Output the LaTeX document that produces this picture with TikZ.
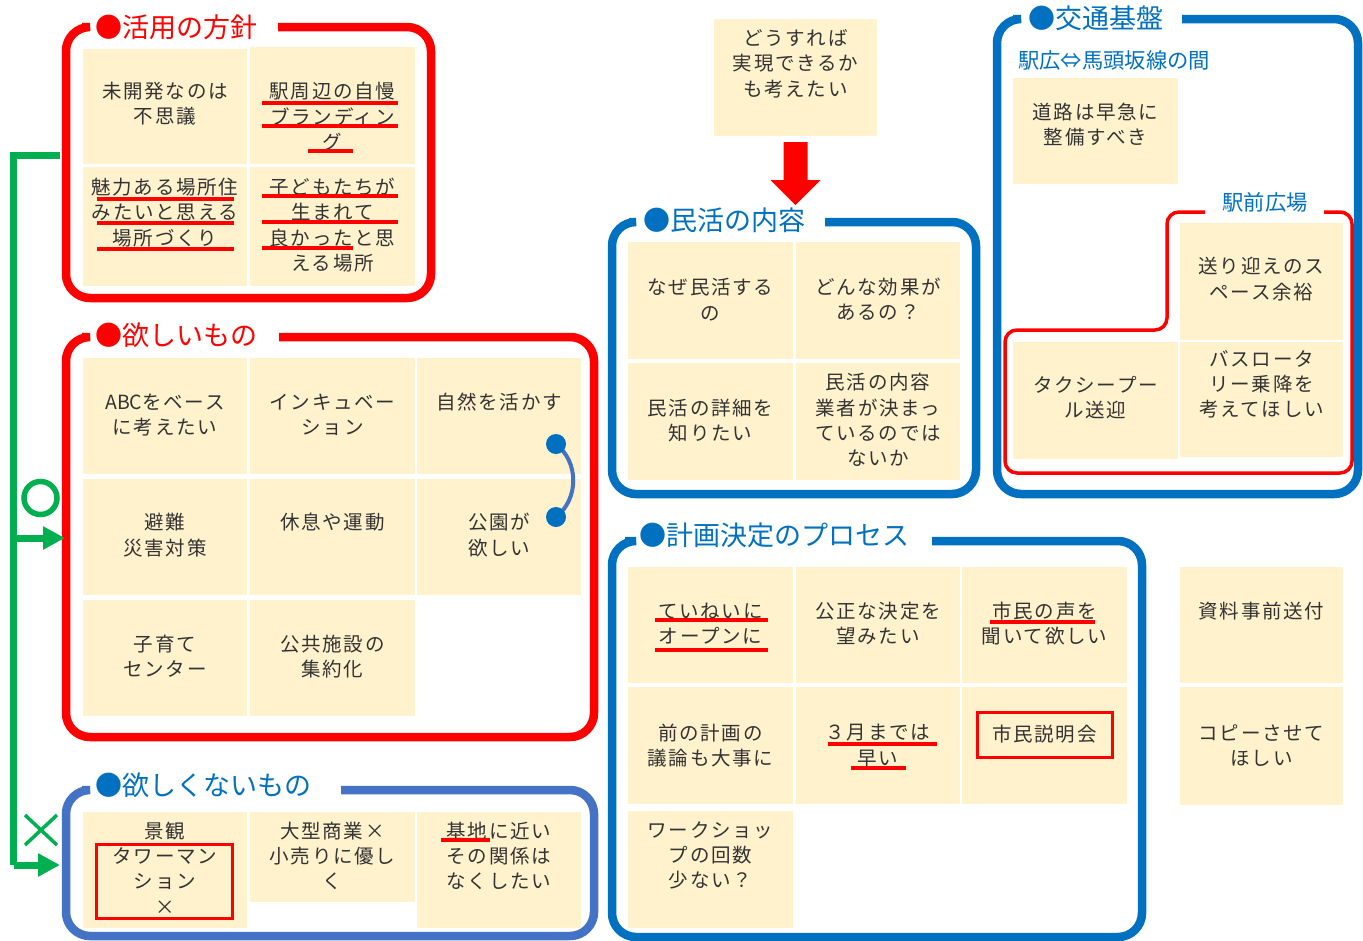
\documentclass[tikz,border=0pt]{standalone}
\usepackage{fontspec}
\setmainfont{Noto Sans CJK JP}
\newfontfamily\stkfont[LetterSpace=9]{Noto Sans CJK JP}
\newfontfamily\latinfont{Noto Sans CJK JP}
\usetikzlibrary{arrows.meta}
\definecolor{stk}{HTML}{FFF2CC}
\definecolor{myred}{HTML}{FF0000}
\definecolor{myblue}{HTML}{0070C0}
\definecolor{lblue}{HTML}{4472C4}
\definecolor{mygreen}{HTML}{00B050}
\definecolor{ink}{HTML}{333333}
\tikzset{
  sticky/.style={fill=stk, draw=none, inner sep=0pt},
  txt/.style={align=center, font=\stkfont\fontsize{19.5}{25.3}\selectfont, text=ink, inner sep=0pt},
  frameR/.style={draw=myred, line width=8.5pt, rounded corners=24pt},
  frameB/.style={draw=myblue, line width=8.5pt, rounded corners=24pt},
  frameLB/.style={draw=lblue, line width=8.5pt, rounded corners=24pt},
  redL/.style={draw=myred, line width=3.5pt, rounded corners=12pt},
  ttlR/.style={text=myred, font=\fontsize{27}{30}\selectfont, anchor=west, inner sep=0pt},
  ttlB/.style={text=myblue, font=\fontsize{27}{30}\selectfont, anchor=west, inner sep=0pt},
  sub/.style={text=myblue, font=\fontsize{21.3}{24}\selectfont, inner sep=0pt},
  uline/.style={draw=myred, line width=3.3pt},
  rbox/.style={draw=myred, line width=3pt},
  grn/.style={draw=mygreen, line width=7pt},
  grnarrow/.style={grn, -{Triangle[length=22pt,width=22pt]}},
  bluedot/.style={fill=myblue},
}
\newcommand\stk[7]{%
  \pgfmathsetmacro\stkcx{(#2+#4)/2}\pgfmathsetmacro\stkcy{(#3+#5)/2}%
  \pgfmathsetmacro\stkw{#4-#2}\pgfmathsetmacro\stkh{#5-#3}%
  \node[sticky, minimum width=\stkw pt, minimum height=\stkh pt] (#1) at (\stkcx,\stkcy) {};
  \node[txt] (#1t) at (\stkcx,#6) {#7};}
\newcommand\grp[7]{%
  \draw[#1] (#7,#3) -- (#4,#3) -- (#4,#5) -- (#2,#5) -- (#2,#3) -- (#6,#3);}
\begin{document}
\begin{tikzpicture}[x=1pt,y=-1pt]
\useasboundingbox (0,0) rectangle (1363,940);
\fill[white] (0,0) rectangle (1363,940);

% ---------- frames ----------
\grp{frameR}{66}{27}{431}{298}{82}{278}
\grp{frameR}{66}{337}{594}{737}{82}{279}
\grp{frameLB}{66}{790}{594}{936}{82}{341}
\grp{frameB}{612}{222}{976}{494}{629}{825}
\grp{frameB}{997}{19}{1358}{494}{1013}{1182}
\grp{frameB}{612}{541}{1142}{937}{625}{932}
\draw[redL] (1324,212) -- (1352,212) -- (1352,473) -- (1005,473) -- (1005,330) -- (1167,330) -- (1167,212) -- (1205,212);

% ---------- titles ----------
\node[ttlR] (t1) at (95,27) {●活用の方針};
\node[ttlR] (t2) at (95,335) {●欲しいもの};
\node[ttlB] (t3) at (95,785) {●欲しくないもの};
\node[ttlB] (t4) at (643,220) {●民活の内容};
\node[ttlB] (t5) at (1028,18) {●交通基盤};
\node[ttlB] (t6) at (639,535) {●計画決定のプロセス};
\node[sub, anchor=west] (s1) at (1018,60) {駅広⇔馬頭坂線の間};
\node[sub] (s2) at (1265,202) {駅前広場};

% ---------- group 1 ----------
\stk{a1}{83}{49}{247}{164}{104}{未開発なのは\\不思議}
\stk{a2}{250}{47}{415}{164}{116.5}{駅周辺の自慢\\ブランディン\\グ}
\stk{a3}{83}{167}{247}{286}{212.5}{魅力ある場所住\\みたいと思える\\場所づくり}
\stk{a4}{250}{167}{415}{286}{225}{子どもたちが\\生まれて\\良かったと思\\える場所}
\draw[uline] (262,103) -- (398,103);
\draw[uline] (262,126) -- (398,126);
\draw[uline] (308,151) -- (353,151);
\draw[uline] (97,199) -- (234,199);
\draw[uline] (97,223) -- (234,223);
\draw[uline] (97,249) -- (234,249);
\draw[uline] (262,196) -- (398,196);
\draw[uline] (262,222) -- (398,222);
\draw[uline] (262,248) -- (353,248);

% ---------- group 2 ----------
\stk{b1}{83}{358}{247}{474}{415}{{\latinfont ABC}をベース\\に考えたい}
\stk{b2}{250}{358}{415}{474}{415}{インキュベー\\ション}
\stk{b3}{417}{358}{581}{474}{402}{自然を活かす}
\stk{b4}{83}{479}{247}{595}{535}{避難\\災害対策}
\stk{b5}{250}{479}{415}{595}{522}{休息や運動}
\stk{b6}{417}{479}{581}{595}{535}{公園が\\欲しい}
\stk{b7}{83}{600}{247}{716}{656.5}{子育て\\センター}
\stk{b8}{250}{600}{415}{716}{656.5}{公共施設の\\集約化}
\coordinate (p1) at (556,444);
\coordinate (p2) at (556,517);
\draw[lblue, line width=4pt] (p1) .. controls (579,462) and (579,499) .. (p2);
\fill[bluedot] (p1) circle[radius=10];
\fill[bluedot] (p2) circle[radius=10];

% ---------- group 3 ----------
\stk{c1}{83}{812}{247}{928}{868}{景観\\タワーマン\\ション\\×}
\stk{c2}{250}{812}{415}{902}{856}{大型商業×\\小売りに優し\\く}
\stk{c3}{417}{812}{581}{928}{856}{基地に近い\\その関係は\\なくしたい}
\draw[rbox] (96,844) rectangle (232,918);
\draw[uline] (441,840) -- (490,840);

% ---------- green connectors ----------
\coordinate (gtop) at (60,155);
\coordinate (gc1) at (13.5,155);
\coordinate (gc2) at (13.5,865);
\coordinate (gmid) at (13.5,538);
\coordinate (gin2) at (65,538);
\coordinate (gin3) at (60,865);
\draw[grn] (gtop) -- (gc1) -- (gc2);
\draw[grnarrow] (gc2) -- (gin3);
\draw[grnarrow] (gmid) -- (gin2);
\draw[grn, line width=5.5pt] (40.5,498) circle[radius=16.5];
\draw[grn, line width=3.5pt] (25,815) -- (57,845) (25,845) -- (57,815);

% ---------- centre top ----------
\stk{d0}{714}{19}{877}{136}{63.5}{どうすれば\\実現できるか\\も考えたい}
\fill[myred] ([xshift=-12pt,yshift=-6pt]d0.south) -- ++(24,0) -- ++(0,38) -- ++(13,0) -- ++(-25,25) -- ++(-25,-25) -- ++(13,0) -- cycle;

% ---------- 民活 ----------
\stk{e1}{628}{242}{793}{359}{299.5}{なぜ民活する\\の}
\stk{e2}{796}{242}{960}{359}{299.5}{どんな効果が\\あるの？}
\stk{e3}{628}{363}{793}{480}{420.5}{民活の詳細を\\知りたい}
\stk{e4}{796}{363}{960}{480}{420}{民活の内容\\業者が決まっ\\ているのでは\\ないか}

% ---------- 交通基盤 ----------
\stk{f1}{1013}{78}{1178}{184}{124.5}{道路は早急に\\整備すべき}
\stk{f2}{1180}{223}{1343}{340}{279}{送り迎えのス\\ペース余裕}
\stk{f3}{1013}{342}{1178}{459}{397.5}{タクシープー\\ル送迎}
\stk{f4}{1180}{342}{1343}{457}{384.5}{バスロータ\\リー乗降を\\考えてほしい}

% ---------- 計画決定 ----------
\stk{g1}{628}{567}{793}{683}{623.5}{ていねいに\\オープンに}
\stk{g2}{796}{567}{960}{683}{623.5}{公正な決定を\\望みたい}
\stk{g3}{962}{567}{1127}{683}{623.5}{市民の声を\\聞いて欲しい}
\stk{g4}{628}{687}{793}{804}{745.5}{前の計画の\\議論も大事に}
\stk{g5}{796}{687}{960}{804}{745.5}{３月までは\\早い}
\stk{g6}{962}{687}{1127}{804}{734}{市民説明会}
\stk{g7}{628}{811}{793}{928}{855.5}{ワークショッ\\プの回数\\少ない？}
\stk{h1}{1180}{567}{1343}{683}{611}{資料事前送付}
\stk{h2}{1180}{687}{1343}{805}{745.5}{コピーさせて\\ほしい}
\draw[uline] (655,620) -- (768,620);
\draw[uline] (655,650) -- (768,650);
\draw[uline] (990,622) -- (1095,622);
\draw[uline] (828,744) -- (937,744);
\draw[uline] (851,768) -- (906,768);
\draw[rbox] (977,712) rectangle (1112,757);
\end{tikzpicture}
\end{document}
